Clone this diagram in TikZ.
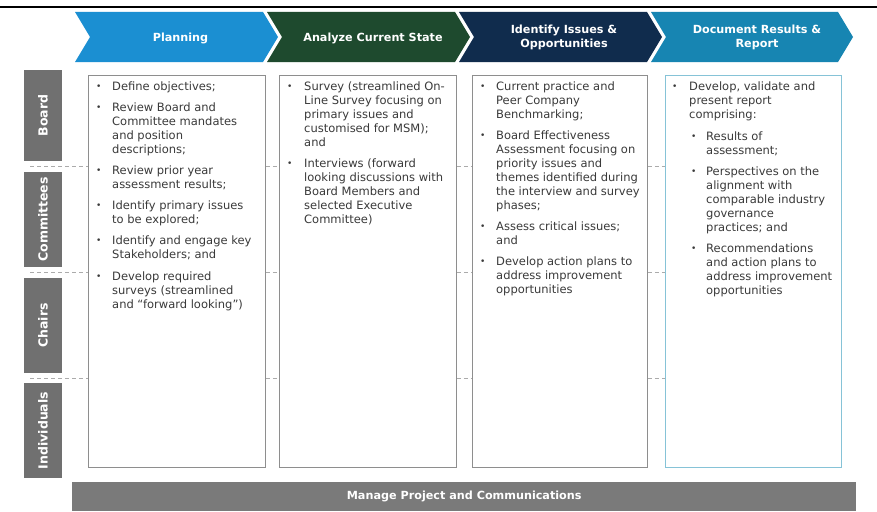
\documentclass[tikz,border=0pt]{standalone}
\usepackage{fontspec}
\setmainfont{DejaVu Sans}
\definecolor{cPlan}{HTML}{1B8FD2}
\definecolor{cAnal}{HTML}{1E4A2E}
\definecolor{cIdent}{HTML}{102C4D}
\definecolor{cDoc}{HTML}{1785B2}
\definecolor{bodygray}{HTML}{3A3A3A}
\definecolor{labgray}{HTML}{707070}
\definecolor{bargray}{HTML}{7A7A7A}
\definecolor{boxgray}{HTML}{8E8E8E}
\definecolor{boxblue}{HTML}{86C3D7}
\definecolor{dashgray}{HTML}{ABABAB}
\newcommand{\bul}{\raisebox{0.3pt}{\fontsize{9}{9}\selectfont •}}
\begin{document}
\begin{tikzpicture}[x=1pt,y=-1pt,
  hdr/.style={text=white, font=\fontsize{11.2}{14}\selectfont\bfseries, align=center, inner sep=0},
  body/.style={anchor=north west, inner sep=0, text=bodygray, font=\fontsize{11.5}{14}\selectfont},
  rowlab/.style={fill=labgray, text=white, rotate=90, minimum height=38pt, inner sep=0, font=\fontsize{12.5}{14}\selectfont\bfseries},
  colbox/.style={draw=boxgray, line width=0.8pt, fill=white, anchor=north west, minimum height=392pt, inner sep=0},
  sep/.style={draw=dashgray, line width=0.8pt, dash pattern=on 4pt off 3pt},
  bar/.style={fill=bargray, text=white, anchor=north west, minimum width=784pt, minimum height=29pt, inner sep=0, font=\fontsize{11.2}{13}\selectfont\bfseries}
]
\useasboundingbox (0,0) rectangle (877,511);
\fill[white] (0,0) rectangle (877,511);
% top rule
\draw[line width=1.2pt] (0,7) -- (877,7);
% chevrons
\fill[cPlan]  (75,12)--(263,12)--(278,37)--(263,62)--(75,62)--(90,37)--cycle;
\fill[cAnal]  (267,12)--(455,12)--(470,37)--(455,62)--(267,62)--(282,37)--cycle;
\fill[cIdent] (459,12)--(647,12)--(662,37)--(647,62)--(459,62)--(474,37)--cycle;
\fill[cDoc]   (651,12)--(838,12)--(853,37)--(838,62)--(651,62)--(666,37)--cycle;
\node[hdr] (h1) at (180.5,38) {Planning};
\node[hdr] (h2) at (373,38) {Analyze Current State};
\node[hdr] (h3) at (564,37) {Identify Issues \&\\Opportunities};
\node[hdr] (h4) at (757,37) {Document Results \&\\Report};
% row labels
\node[rowlab, minimum width=91pt] (rBoard) at (43,115.5) {Board};
\node[rowlab, minimum width=95pt] (rComm) at (43,219.5) {Committees};
\node[rowlab, minimum width=95pt] (rChairs) at (43,325.5) {Chairs};
\node[rowlab, minimum width=95pt] (rIndiv) at (43,430.5) {Individuals};
% column boxes
\node[colbox, minimum width=177pt] (b1) at (88,75) {};
\node[colbox, minimum width=177pt] (b2) at (279,75) {};
\node[colbox, minimum width=175pt] (b3) at (472,75) {};
\node[colbox, minimum width=176pt, draw=boxblue] (b4) at (665,75) {};
% dashed separators
\foreach \yy/\nm in {166/a,272/b,378/c}{
  \coordinate (s\nm) at (30,\yy);
  \draw[sep] (s\nm) -- (b1.west |- s\nm);
  \draw[sep] (b1.east |- s\nm) -- (b2.west |- s\nm);
  \draw[sep] (b2.east |- s\nm) -- (b3.west |- s\nm);
  \draw[sep] (b3.east |- s\nm) -- (b4.west |- s\nm);
}
% texts
\node[body] (t1) at (96,80) {\begin{tabular}{@{}p{16pt}@{}l@{}}
\bul & Define objectives;\\[7pt]
\bul & Review Board and\\
 & Committee mandates\\
 & and position\\
 & descriptions;\\[7pt]
\bul & Review prior year\\
 & assessment results;\\[7pt]
\bul & Identify primary issues\\
 & to be explored;\\[7pt]
\bul & Identify and engage key\\
 & Stakeholders; and\\[8pt]
\bul & Develop required\\
 & surveys (streamlined\\
 & and “forward looking”)
\end{tabular}};
\node[body] (t2) at (287,80) {\begin{tabular}{@{}p{17pt}@{}l@{}}
\bul & Survey (streamlined On-\\
 & Line Survey focusing on\\
 & primary issues and\\
 & customised for MSM);\\
 & and\\[7pt]
\bul & Interviews (forward\\
 & looking discussions with\\
 & Board Members and\\
 & selected Executive\\
 & Committee)
\end{tabular}};
\node[body] (t3) at (480,80) {\begin{tabular}{@{}p{16pt}@{}l@{}}
\bul & Current practice and\\
 & Peer Company\\
 & Benchmarking;\\[7pt]
\bul & Board Effectiveness\\
 & Assessment focusing on\\
 & priority issues and\\
 & themes identified during\\
 & the interview and survey\\
 & phases;\\[7pt]
\bul & Assess critical issues;\\
 & and\\[7pt]
\bul & Develop action plans to\\
 & address improvement\\
 & opportunities
\end{tabular}};
\node[body] (t4) at (672,80) {\begin{tabular}{@{}p{17pt}@{}p{17pt}@{}l@{}}
\bul & \multicolumn{2}{@{}l@{}}{Develop, validate and}\\
 & \multicolumn{2}{@{}l@{}}{present report}\\
 & \multicolumn{2}{@{}l@{}}{comprising:}\\[8pt]
 & \hspace{2pt}\bul & Results of\\
 & & assessment;\\[7pt]
 & \hspace{2pt}\bul & Perspectives on the\\
 & & alignment with\\
 & & comparable industry\\
 & & governance\\
 & & practices; and\\[7pt]
 & \hspace{2pt}\bul & Recommendations\\
 & & and action plans to\\
 & & address improvement\\
 & & opportunities
\end{tabular}};
% bottom bar
\node[bar] (mgmt) at (72,482) {Manage Project and Communications};
\end{tikzpicture}
\end{document}
